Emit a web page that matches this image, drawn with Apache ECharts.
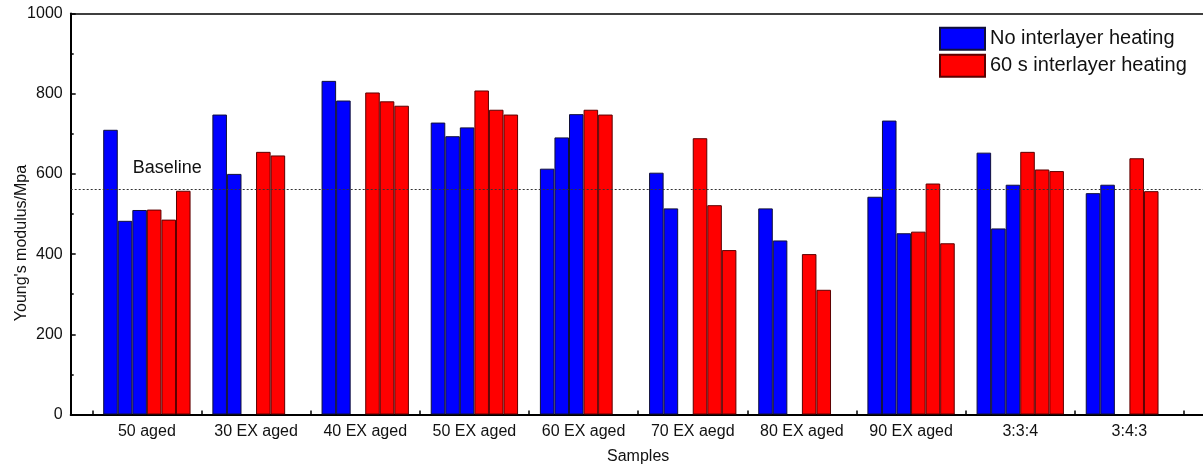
<!DOCTYPE html>
<html>
<head>
<meta charset="utf-8">
<script src="https://cdn.jsdelivr.net/npm/echarts@6/dist/echarts.min.js"></script>
<style>
  html, body { margin: 0; padding: 0; background: #fff; }
  #chart { width: 1203px; height: 468px; }
</style>
</head>
<body>
<div id="chart"></div>
<script>
// Sample groups along the x axis
const categories = ['50 aged', '30 EX aged', '40 EX aged', '50 EX aged', '60 EX aged',
  '70 EX aegd', '80 EX aged', '90 EX aged', '3:3:4', '3:4:3'];

// Young's modulus (MPa), three specimens per group; null = no specimen
const noHeat1 = [710, 748, 832, 728, 613, 603, 514, 543, 653, 552];
const noHeat2 = [483, 600, 783, 694, 691, 514, 434, 733, 464, 573];
const noHeat3 = [510, null, null, 716, 749, null, null, 452, 573, null];
const heat1 = [511, 655, 803, 808, 760, 689, 400, 456, 655, 639];
const heat2 = [486, 646, 781, 760, 748, 522, 311, 576, 611, 557];
const heat3 = [558, null, 770, 748, null, 410, null, 427, 607, null];

const baselineValue = 562;
const yTicks = [0, 200, 400, 600, 800, 1000];

const NAME_BLUE = 'No interlayer heating';
const NAME_RED = '60 s interlayer heating';
const FONT = 'Liberation Sans, Arial, sans-serif';
const TEXT = '#111';

function barSeries(name, data, color, border) {
  return {
    type: 'bar', name: name, data: data,
    xAxisIndex: 2, yAxisIndex: 1,
    barGap: '0%', barCategoryGap: '20%',
    itemStyle: { color: color, borderColor: border, borderWidth: 1 }
  };
}

const chart = echarts.init(document.getElementById('chart'), null, { renderer: 'canvas' });
chart.setOption({
  animation: false,
  backgroundColor: '#fff',
  textStyle: { fontFamily: FONT },
  grid: [
    // frame: axes box and baseline
    { left: 70.7, right: 0, top: 13.5, height: 401, containLabel: false, outerBoundsMode: 'none' },
    // bars: one band per sample group
    { left: 92.3, width: 1091.7, top: 13.5, height: 401, containLabel: false, outerBoundsMode: 'none' }
  ],
  legend: {
    data: [NAME_BLUE, NAME_RED],
    orient: 'vertical',
    left: 934, top: 21.7,
    padding: 5,
    itemWidth: 45, itemHeight: 22, itemGap: 3,
    icon: 'rect',
    textStyle: { fontSize: 20, color: TEXT, fontFamily: FONT }
  },
  xAxis: [
    { gridIndex: 0, type: 'value', min: 0, max: 1, position: 'bottom',
      axisLine: { show: true, lineStyle: { color: '#000', width: 2 } },
      axisTick: { show: false }, axisLabel: { show: false }, splitLine: { show: false } },
    { gridIndex: 0, type: 'value', min: 0, max: 1, position: 'top',
      axisLine: { show: true, lineStyle: { color: '#000', width: 1.5 } },
      axisTick: { show: false }, axisLabel: { show: false }, splitLine: { show: false } },
    { gridIndex: 1, type: 'category', data: categories, position: 'bottom',
      boundaryGap: true,
      name: 'Samples', nameLocation: 'middle', nameGap: 34, nameMoveOverlap: false,
      nameTextStyle: { fontSize: 16, color: TEXT, fontFamily: FONT },
      axisLine: { show: false },
      axisTick: { show: true, inside: true, length: 4, interval: 0, alignWithLabel: false,
        lineStyle: { color: '#000', width: 1.5 } },
      axisLabel: { fontSize: 16, color: TEXT, margin: 9, interval: 0, fontFamily: FONT },
      splitLine: { show: false } }
  ],
  yAxis: [
    { gridIndex: 0, type: 'value', min: 0, max: 1000, interval: 200,
      name: "Young's modulus/Mpa", nameLocation: 'middle', nameGap: 41, nameMoveOverlap: false,
      nameTextStyle: { fontSize: 16, color: TEXT, fontFamily: FONT, padding: [0, 58, 0, 0] },
      axisLine: { show: true, lineStyle: { color: '#000', width: 2 } },
      axisTick: { show: true, inside: true, length: 5, lineStyle: { color: '#000', width: 1.5 } },
      minorTick: { show: true, splitNumber: 2, length: 3, lineStyle: { color: '#000', width: 1.5 } },
      axisLabel: { fontSize: 16, color: TEXT, margin: 8, fontFamily: FONT,
        formatter: v => (yTicks.indexOf(v) >= 0 ? String(v) : '') },
      splitLine: { show: false } },
    { gridIndex: 1, type: 'value', min: 0, max: 1000, interval: 200, show: false }
  ],
  series: [
    {
      type: 'line', name: 'baseline', data: [], xAxisIndex: 0, yAxisIndex: 0,
      silent: true,
      markLine: {
        silent: true, symbol: 'none',
        lineStyle: { color: '#333', type: [2, 2], width: 1 },
        label: { show: true, formatter: 'Baseline', position: 'insideStartTop',
          distance: [62, 12], fontSize: 18, color: TEXT, fontFamily: FONT },
        data: [{ yAxis: baselineValue }]
      }
    },
    barSeries(NAME_BLUE, noHeat1, '#0000ff', '#10103a'),
    barSeries(NAME_BLUE, noHeat2, '#0000ff', '#10103a'),
    barSeries(NAME_BLUE, noHeat3, '#0000ff', '#10103a'),
    barSeries(NAME_RED, heat1, '#ff0000', '#5c0000'),
    barSeries(NAME_RED, heat2, '#ff0000', '#5c0000'),
    barSeries(NAME_RED, heat3, '#ff0000', '#5c0000')
  ]
});
</script>
</body>
</html>
